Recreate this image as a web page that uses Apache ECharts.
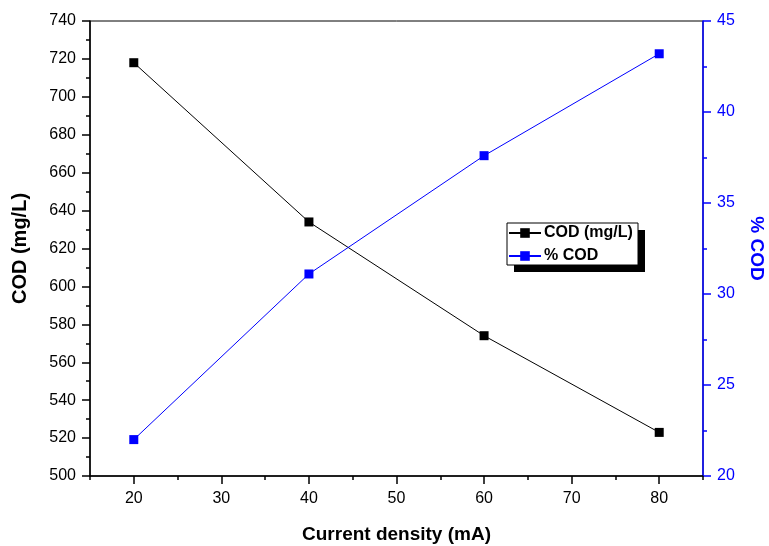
<!DOCTYPE html>
<html><head><meta charset="utf-8">
<script src="https://cdn.jsdelivr.net/npm/echarts@6/dist/echarts.min.js"></script>
<style>html,body{margin:0;padding:0;background:#fff}#c{width:769px;height:546px}</style>
</head><body><div id="c"></div>
<script>
const categories = [20, 40, 60, 80];
const codValues = [718, 634, 574, 523];
const pctCodValues = [22.0, 31.1, 37.6, 43.2];
const xTickLabels = [20, 30, 40, 50, 60, 70, 80];
const F = 'Liberation Sans, Arial, sans-serif';
const chart = echarts.init(document.getElementById('c'));
chart.setOption({
  animation: false,
  backgroundColor: '#fff',
  grid: { left: 90, right: 66, top: 21, bottom: 70, show: true, borderColor: '#000', borderWidth: 1, containLabel: false, outerBoundsMode: 'none' },
  graphic: [
    { type: 'rect', z: 90, shape: { x: 514, y: 230, width: 131, height: 42 }, style: { fill: '#000' } },
    { type: 'rect', z: 91, shape: { x: 507, y: 223, width: 131, height: 42 }, style: { fill: '#fff', stroke: '#000', lineWidth: 1 } }
  ],
  legend: {
    z: 100,
    orient: 'vertical', left: 508, top: 225, itemGap: 7, itemWidth: 32, itemHeight: 12,
    padding: 0,
    textStyle: { fontFamily: F, fontWeight: 'bold', fontSize: 16, color: '#000', padding: [0, 0, 0, -2], lineHeight: 16 },
    data: ['COD (mg/L)', '% COD']
  },
  xAxis: [
    {
      type: 'value', min: 15, max: 85,
      name: 'Current density (mA)', nameLocation: 'middle', nameGap: 49,
      nameTextStyle: { fontFamily: F, fontWeight: 'bold', fontSize: 19, color: '#000' },
      axisLine: { lineStyle: { color: '#000', width: 1.5 } },
      axisTick: { length: 8, customValues: xTickLabels, lineStyle: { color: '#000', width: 1.5 } },
      splitLine: { show: false },
      axisLabel: { fontFamily: F, fontSize: 16, color: '#000', margin: 15, customValues: xTickLabels }
    },
    {
      type: 'value', min: 15, max: 85, interval: 10, position: 'bottom',
      axisLine: { show: false },
      axisTick: { length: 4, lineStyle: { color: '#000', width: 1.5 } },
      splitLine: { show: false },
      axisLabel: { show: false }
    }
  ],
  yAxis: [
    {
      type: 'value', min: 500, max: 740, interval: 20, position: 'left',
      name: 'COD (mg/L)', nameLocation: 'middle', nameGap: 60,
      nameTextStyle: { fontFamily: F, fontWeight: 'bold', fontSize: 20, color: '#000' },
      axisLine: { show: true, lineStyle: { color: '#000', width: 1.5 } },
      axisTick: { length: 8, lineStyle: { color: '#000', width: 1.5 } },
      minorTick: { show: true, splitNumber: 2, length: 4, lineStyle: { color: '#000', width: 1.5 } },
      splitLine: { show: false },
      axisLabel: { fontFamily: F, fontSize: 16, color: '#000', margin: 14 }
    },
    {
      type: 'value', min: 20, max: 45, interval: 5, position: 'right',
      name: '% COD', nameLocation: 'middle', nameGap: 44, nameRotate: -90,
      nameTextStyle: { fontFamily: F, fontWeight: 'bold', fontSize: 19, color: '#0000ff' },
      axisLine: { show: true, lineStyle: { color: '#0000ff', width: 1.5 } },
      axisTick: { length: 8, lineStyle: { color: '#0000ff', width: 1.5 } },
      minorTick: { show: true, splitNumber: 2, length: 4, lineStyle: { color: '#0000ff', width: 1.5 } },
      splitLine: { show: false },
      axisLabel: { fontFamily: F, fontSize: 16, color: '#0000ff', margin: 14 }
    }
  ],
  series: [
    {
      name: 'COD (mg/L)', type: 'line', yAxisIndex: 0,
      data: categories.map((c, i) => [c, codValues[i]]),
      symbol: 'rect', symbolSize: 9,
      lineStyle: { color: '#000', width: 1 }, itemStyle: { color: '#000' }
    },
    {
      name: '% COD', type: 'line', yAxisIndex: 1,
      data: categories.map((c, i) => [c, pctCodValues[i]]),
      symbol: 'rect', symbolSize: 9,
      lineStyle: { color: '#0000ff', width: 1 }, itemStyle: { color: '#0000ff' }
    }
  ]
});
</script></body></html>
